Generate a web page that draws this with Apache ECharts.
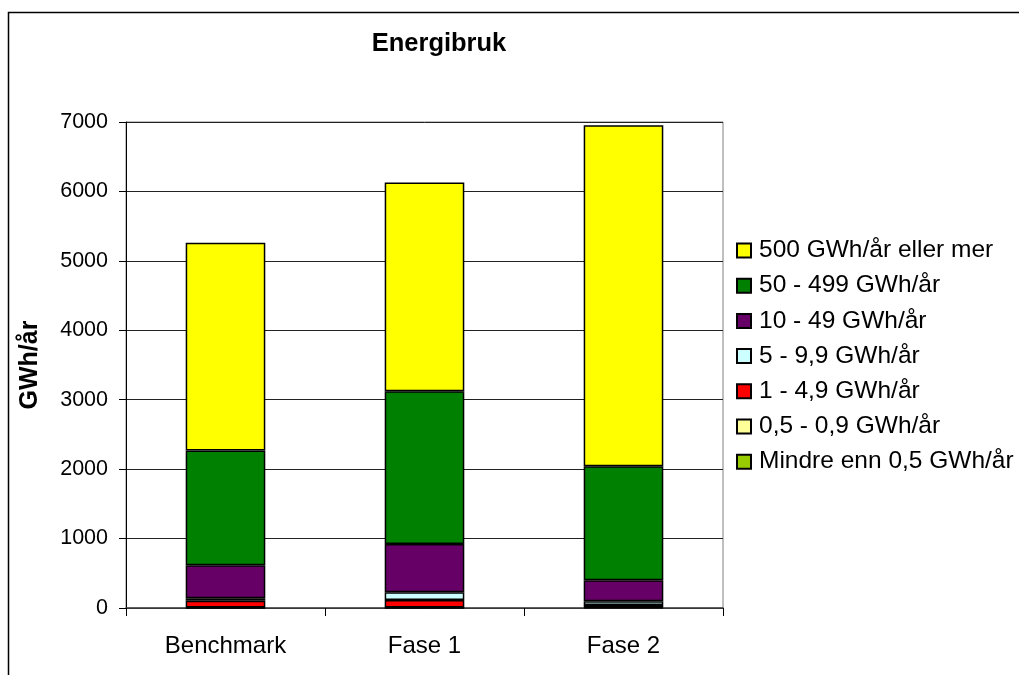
<!DOCTYPE html>
<html>
<head>
<meta charset="utf-8">
<title>Energibruk</title>
<script src="https://cdn.jsdelivr.net/npm/echarts@6/dist/echarts.min.js"></script>
<style>
  html, body { margin: 0; padding: 0; background: #fff; }
  #chart { width: 1019px; height: 675px; }
</style>
</head>
<body>
<div id="chart"></div>
<script>
// kategorier langs x-aksen
var categories = ['Benchmark', 'Fase 1', 'Fase 2'];

// serier, nederst i stabelen først
var mindreEnnHalv = [3, 3, 5];
var halvTilNull9 = [4, 5, 8];
var enTilFire9 = [99, 107, 30];
var femTilNi9 = [33, 111, 53];
var tiTil49 = [476, 697, 303];
var femtiTil499 = [1652, 2199, 1642];
var femhundreOgMer = [2995, 3007, 4913];

var seriesNames = [
  'Mindre enn 0,5 GWh/år',
  '0,5 - 0,9 GWh/år',
  '1 - 4,9 GWh/år',
  '5 - 9,9 GWh/år',
  '10 - 49 GWh/år',
  '50 - 499 GWh/år',
  '500 GWh/år eller mer'
];
var seriesData = [mindreEnnHalv, halvTilNull9, enTilFire9, femTilNi9, tiTil49, femtiTil499, femhundreOgMer];
var seriesColors = ['#99CC00', '#FFFF99', '#FF0000', '#CCFFFF', '#660066', '#008000', '#FFFF00'];

var font = "'Liberation Sans', Arial, sans-serif";

var chart = echarts.init(document.getElementById('chart'));

var series = seriesNames.map(function (name, i) {
  return {
    name: name,
    type: 'bar',
    stack: 'total',
    barCategoryGap: '60%',
    itemStyle: {
      color: seriesColors[i],
      borderColor: '#000',
      borderWidth: 1.5
    },
    data: seriesData[i]
  };
});

var option = {
  animation: false,
  backgroundColor: '#fff',
  textStyle: { fontFamily: font },
  title: {
    text: 'Energibruk',
    left: 439,
    textAlign: 'center',
    top: 31,
    padding: 0,
    textStyle: { fontFamily: font, fontSize: 25.5, fontWeight: 'bold', color: '#000' }
  },
  // plotteområdet
  grid: {
    left: 126,
    right: 296,
    top: 122,
    bottom: 67,
    show: true,
    borderColor: '#808080',
    borderWidth: 1
  },
  legend: {
    orient: 'vertical',
    left: 736,
    top: 238,
    padding: 0,
    itemWidth: 14,
    itemHeight: 14,
    itemGap: 10.2,
    icon: 'rect',
    data: seriesNames.slice().reverse(),
    textStyle: { fontFamily: font, fontSize: 24.5, lineHeight: 24, color: '#000', padding: [0, 0, 0, 3] }
  },
  xAxis: {
    type: 'category',
    data: categories,
    axisLine: { lineStyle: { color: '#404040', width: 1.5 } },
    axisTick: { show: true, length: 8, lineStyle: { color: '#000' } },
    axisLabel: { color: '#000', fontSize: 24, margin: 26, fontFamily: font }
  },
  yAxis: {
    type: 'value',
    min: 0,
    max: 7000,
    interval: 1000,
    name: 'GWh/år',
    nameLocation: 'middle',
    nameGap: 83,
    nameRotate: 90,
    nameTextStyle: { fontFamily: font, fontSize: 25, fontWeight: 'bold', color: '#000' },
    axisLine: { show: true, lineStyle: { color: '#000', width: 1 } },
    axisTick: { show: true, length: 7, lineStyle: { color: '#000' } },
    axisLabel: {
      color: '#000',
      fontSize: 21.5,
      margin: 18,
      fontFamily: font,
      formatter: function (v) { return String(v); }
    },
    splitLine: { lineStyle: { color: '#222', width: 1 } }
  },
  graphic: [
    {
      type: 'rect',
      shape: { x: 8.5, y: 12.5, width: 1200, height: 800 },
      style: { fill: 'none', stroke: '#000', lineWidth: 1.5 },
      silent: true,
      z: 100
    }
  ],
  series: series
};

chart.setOption(option);
</script>
</body>
</html>
